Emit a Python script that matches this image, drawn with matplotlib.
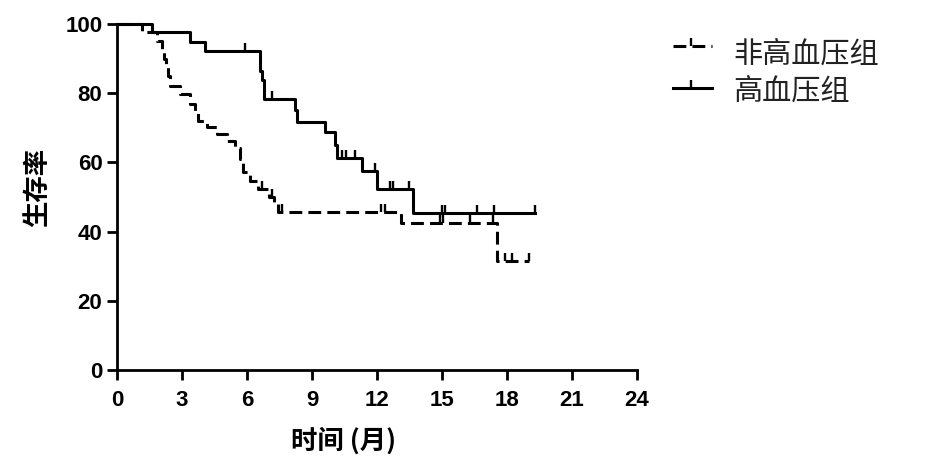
"""
Kaplan-Meier survival curves: 非高血压组 vs 高血压组
"""

import numpy as np
import matplotlib
matplotlib.use('Agg')  # Non-interactive backend
import matplotlib.pyplot as plt
from matplotlib.lines import Line2D

# ---- data ----
# 非高血压组 (dashed): event times (months) and survival (%) after each step
non_times = [0, 1.15, 1.85, 2.08, 2.15, 2.25, 2.35, 2.45, 2.9, 3.37, 3.6, 3.74,
             4.15, 4.6, 5.08, 5.45, 5.68, 5.8, 6.14, 6.5, 7.0, 7.25, 7.43,
             13.1, 17.55]
non_surv = [100, 97.6, 95.1, 92.8, 89.9, 87.5, 84.9, 82.0, 79.7, 76.8, 74.5, 71.9,
            70.1, 68.1, 66.1, 64.3, 60.9, 57.1, 54.5, 52.2, 49.9, 48.4, 45.8,
            42.5, 31.6]
non_end = 19.0
non_censor = [6.7, 7.15, 7.6, 12.2, 12.35, 14.9, 15.05, 16.3, 17.35, 17.9, 18.25, 19.0]

# 高血压组 (solid)
htn_times = [0, 1.6, 3.37, 4.05, 6.6, 6.7, 6.8, 8.2, 8.3, 9.6, 10.06, 10.15,
             11.3, 12.0, 13.66]
htn_surv = [100, 97.7, 94.8, 92.3, 86.4, 83.8, 78.3, 75.0, 71.6, 68.7, 64.9, 61.4,
            57.4, 52.2, 45.3]
htn_end = 19.3
htn_censor = [5.9, 7.15, 10.4, 10.55, 11.0, 11.9, 12.6, 12.75, 13.5, 15.0, 15.15,
              16.6, 17.4, 19.3]

x_ticks = [0, 3, 6, 9, 12, 15, 18, 21, 24]
y_ticks = [0, 20, 40, 60, 80, 100]

W, H = 953, 468
LW = 2.2
DASH = (0, (4.2, 2.0))
CJK = ['Noto Sans CJK SC', 'DejaVu Sans']


def censor_values(times, surv, censor):
    idx = np.searchsorted(times, censor, side='right') - 1
    return np.asarray(surv)[idx]


fig = plt.figure(figsize=(W / 100, H / 100), dpi=100)
ax = fig.add_axes([117 / W, 1 - 370 / H, 520 / W, 346 / H])

for times, surv, end, cens, ls in [
        (non_times, non_surv, non_end, non_censor, DASH),
        (htn_times, htn_surv, htn_end, htn_censor, '-')]:
    ax.step(list(times) + [end], list(surv) + [surv[-1]], where='post',
            color='black', linewidth=LW, linestyle=ls, clip_on=False)
    ax.plot(cens, censor_values(times, surv, cens), linestyle='none',
            marker=2, markersize=6, markeredgewidth=1.7, color='black',
            clip_on=False)

ax.set_xlim(0, 24)
ax.set_ylim(0, 100)
ax.set_xticks(x_ticks)
ax.set_yticks(y_ticks)

for side in ['top', 'right']:
    ax.spines[side].set_visible(False)
for side in ['left', 'bottom']:
    ax.spines[side].set_linewidth(2.0)

ax.tick_params(direction='out', length=7.5, width=2.0, labelsize=16, pad=3)
ax.tick_params(axis='x', pad=7)
for lbl in ax.get_xticklabels() + ax.get_yticklabels():
    lbl.set_fontweight('bold')
    lbl.set_family('Liberation Sans')

ax.set_xlabel('时间 (月)', fontsize=19, fontweight='bold', family=CJK)
ax.xaxis.set_label_coords((344 - 117) / 520, (370 - 441) / 346)
ax.xaxis.label.set_va('center')

ax.set_ylabel('生存率', fontsize=19, fontweight='bold', family=CJK)
ax.yaxis.set_label_coords((38 - 117) / 520, (370 - 187) / 346)
ax.yaxis.label.set_va('center')

# legend drawn by hand at the top right
legend_rows = [('非高血压组', DASH, 46, 55), ('高血压组', '-', 88, 92)]
for label, ls, yline, ytext in legend_rows:
    fig.add_artist(Line2D([673 / W, 712 / W], [1 - yline / H, 1 - yline / H],
                          color='black', linewidth=LW, linestyle=ls))
    fig.add_artist(Line2D([691 / W], [1 - yline / H], marker=2, markersize=6,
                          markeredgewidth=1.7, color='black', linestyle='none'))
    fig.text(733 / W, 1 - ytext / H, label, fontsize=21, family=CJK,
             color='#222222', ha='left', va='center')

fig.savefig('out.png', dpi=100)
plt.close(fig)
